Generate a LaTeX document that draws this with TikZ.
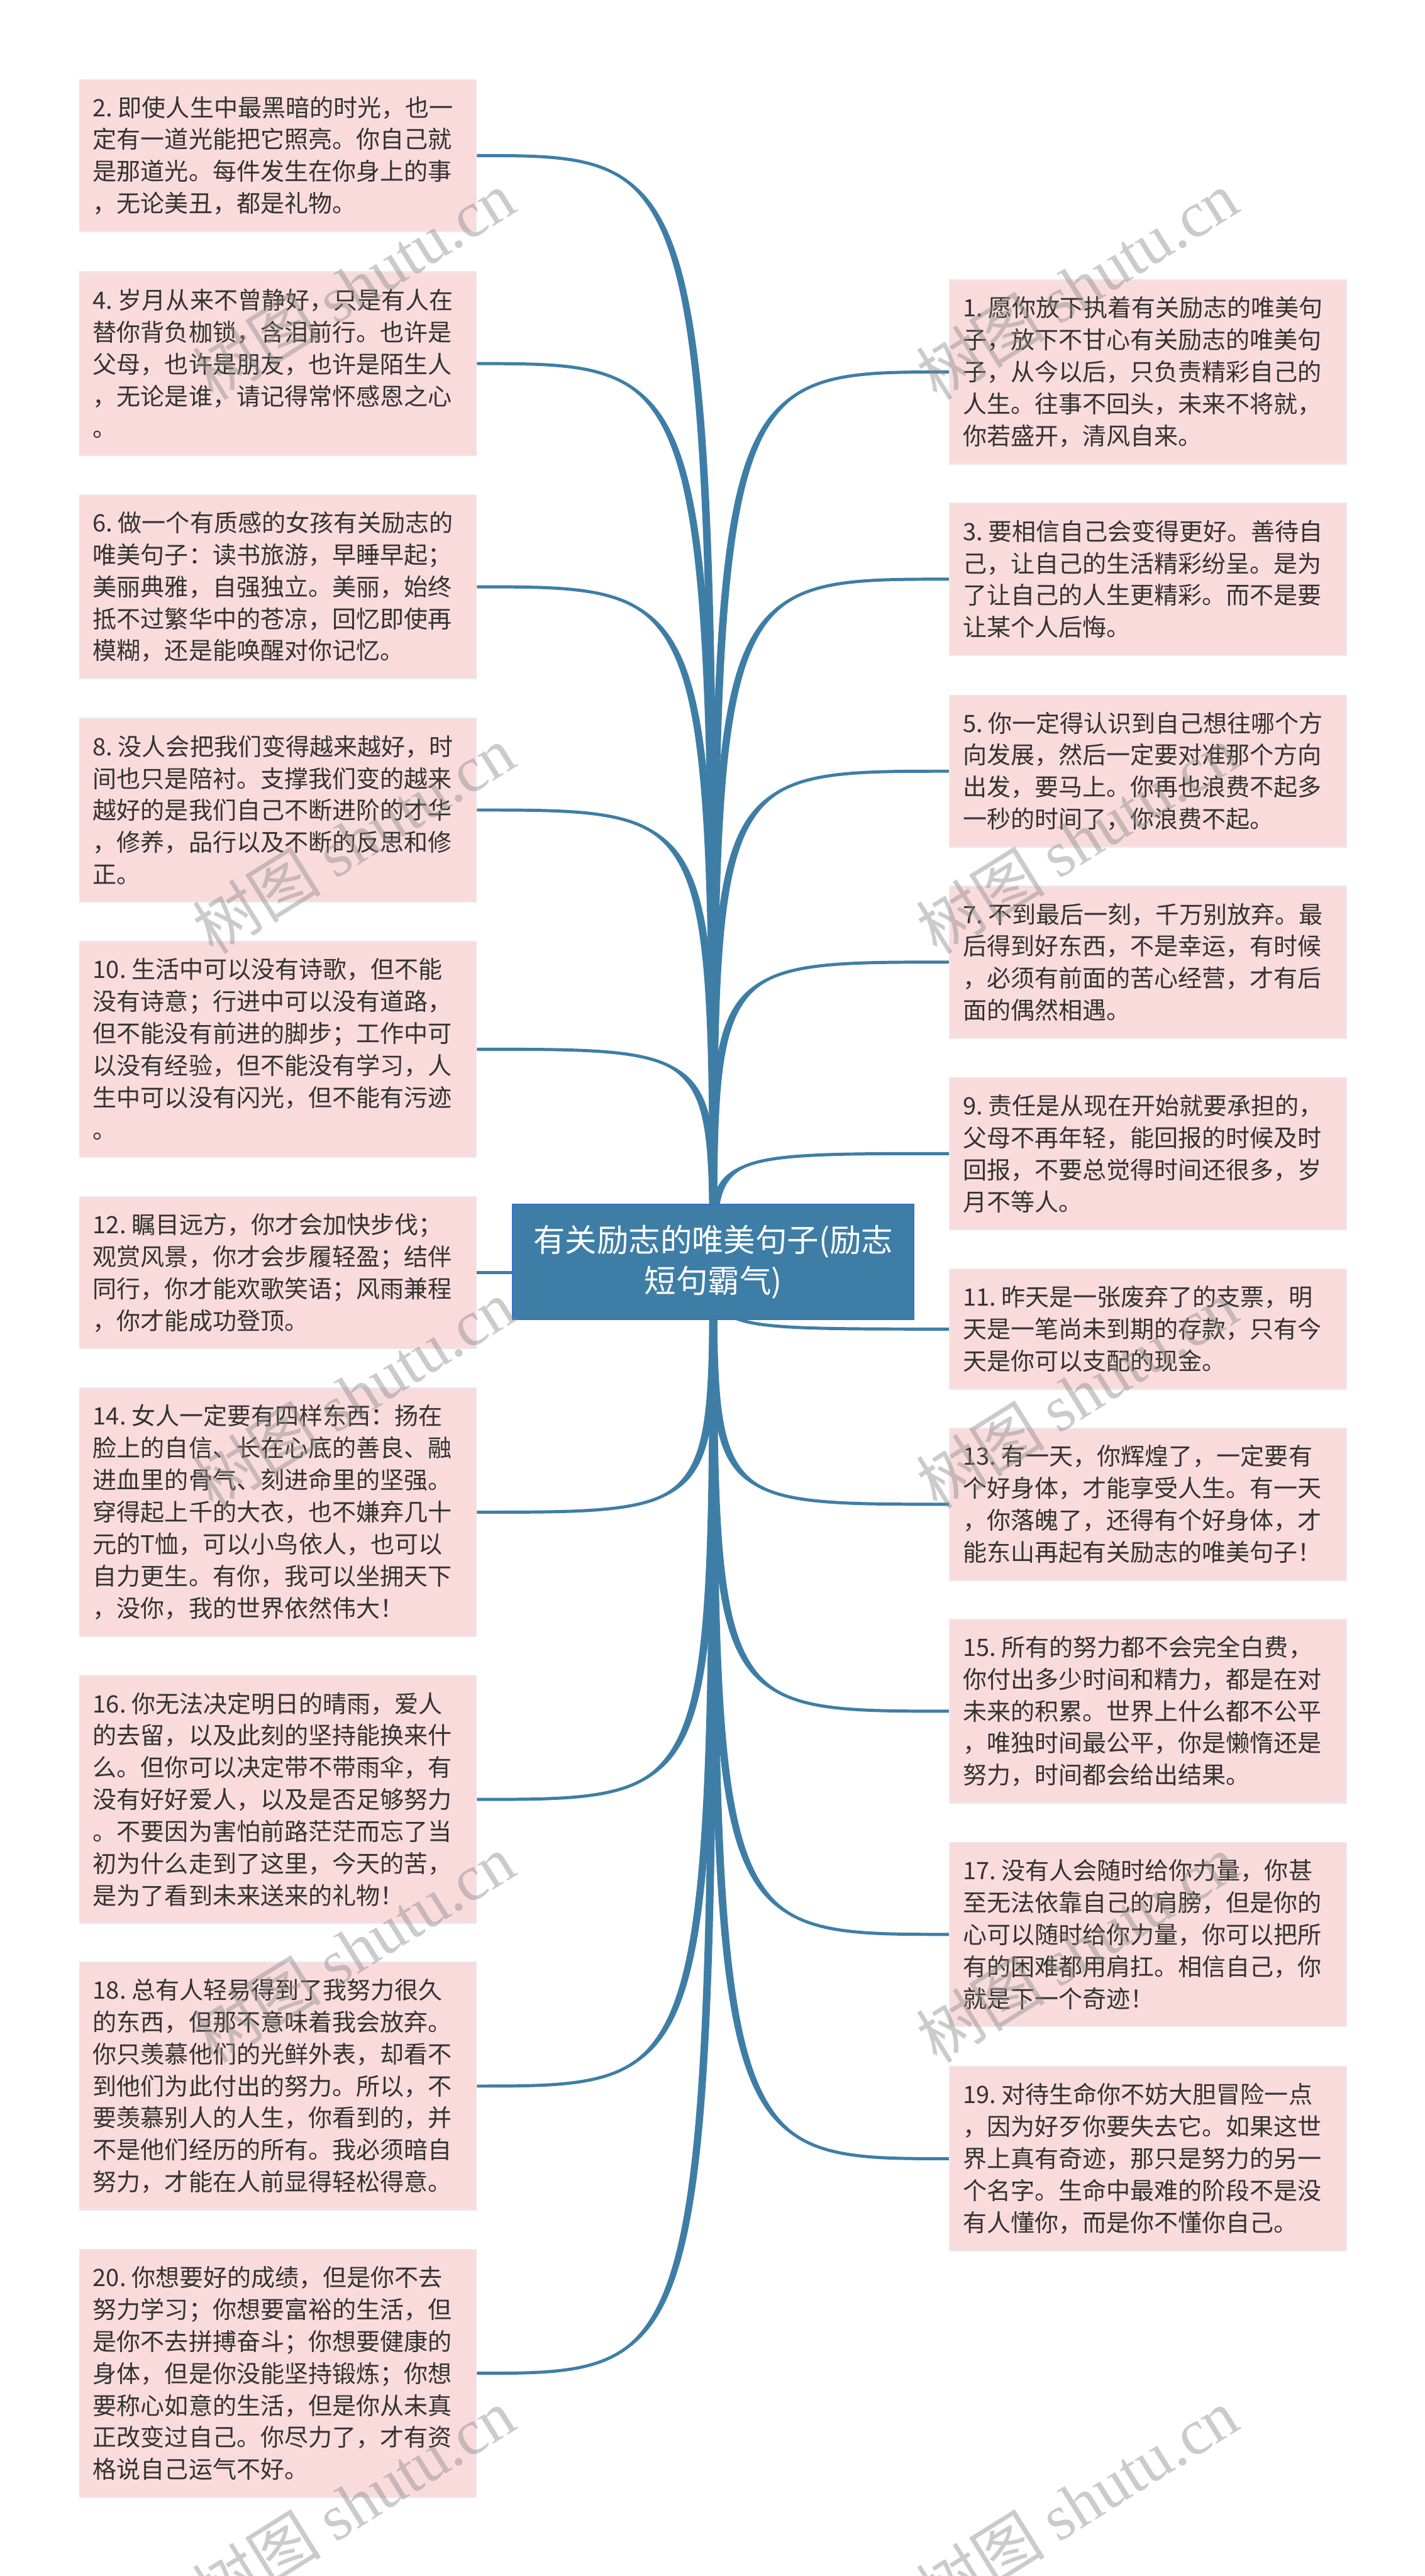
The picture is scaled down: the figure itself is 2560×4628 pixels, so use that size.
\documentclass[tikz,border=0pt]{standalone}
\usepackage{fontspec}
\setmainfont{Noto Sans CJK SC}
\newfontfamily\cjk{Noto Sans CJK SC}
\newfontfamily\wmserif{Liberation Serif}
\usetikzlibrary{calc}
\definecolor{pinkfill}{RGB}{250,219,219}
\definecolor{pinkline}{RGB}{234,232,238}
\definecolor{txt}{RGB}{51,51,51}
\definecolor{hub}{RGB}{62,126,166}
\definecolor{hubline}{RGB}{52,112,200}
\definecolor{conncol}{RGB}{62,126,166}
\pgfdeclarelayer{bg}
\pgfsetlayers{bg,main}
\newcommand\mmbranch[1]{%
  \fill[conncol] (cL) .. controls (cL |- #1) .. (#1) .. controls (cR |- #1) .. (cR) -- cycle;
  \draw[connline] (c.center) .. controls (c.center |- #1) .. (#1);}
\newcommand\nsp{\kern0.22em}
\begin{document}
\begin{tikzpicture}[x=0.25pt,y=-0.25pt,
  pbox/.style={rectangle, fill=pinkfill, draw=pinkline, line width=0.5pt,
    anchor=north west, text width=166.25pt, inner xsep=6pt, inner ysep=0pt,
    align=left, text=txt, font={\fontsize{10.75pt}{14.375pt}\selectfont}},
  lthree/.style={minimum height=53.875pt},
  lfour/.style={minimum height=68.25pt},
  lfive/.style={minimum height=82.625pt},
  lsix/.style={minimum height=97pt},
  lseven/.style={minimum height=111.375pt},
  hubbox/.style={rectangle, fill=hub, draw=hubline, line width=0.5pt, text=white,
    minimum width=180.25pt, minimum height=51.75pt, inner sep=0pt, align=center,
    font={\fontsize{14.25pt}{18.5pt}\selectfont}},
  connline/.style={draw=conncol, line width=1.4pt},
  wm/.style={text=black!45, opacity=0.45, rotate=32, inner sep=0pt,
    font={\fontsize{29pt}{29pt}\selectfont}}]
\useasboundingbox (0,0) rectangle (2560,4628);

% central node
\node[hubbox] (c) at (1281.5,2267.5) {有关励志的唯美句子(励志\\短句霸气)};

% left boxes
\node[pbox,lfour] (b2) at (142,142) {2.\nsp 即使人生中最黑暗的时光，也一\\定有一道光能把它照亮。你自己就\\是那道光。每件发生在你身上的事\\，无论美丑，都是礼物。};
\node[pbox,lfive] (b4) at (142,487) {4.\nsp 岁月从来不曾静好，只是有人在\\替你背负枷锁，含泪前行。也许是\\父母，也许是朋友，也许是陌生人\\，无论是谁，请记得常怀感恩之心\\。};
\node[pbox,lfive] (b6) at (142,888) {6.\nsp 做一个有质感的女孩有关励志的\\唯美句子：读书旅游，早睡早起；\\美丽典雅，自强独立。美丽，始终\\抵不过繁华中的苍凉，回忆即使再\\模糊，还是能唤醒对你记忆。};
\node[pbox,lfive] (b8) at (142,1289) {8.\nsp 没人会把我们变得越来越好，时\\间也只是陪衬。支撑我们变的越来\\越好的是我们自己不断进阶的才华\\，修养，品行以及不断的反思和修\\正。};
\node[pbox,lsix] (b10) at (142,1690) {10.\nsp 生活中可以没有诗歌，但不能\\没有诗意；行进中可以没有道路，\\但不能没有前进的脚步；工作中可\\以没有经验，但不能没有学习，人\\生中可以没有闪光，但不能有污迹\\。};
\node[pbox,lfour] (b12) at (142,2149) {12.\nsp 瞩目远方，你才会加快步伐；\\观赏风景，你才会步履轻盈；结伴\\同行，你才能欢歌笑语；风雨兼程\\，你才能成功登顶。};
\node[pbox,lseven] (b14) at (142,2493) {14.\nsp 女人一定要有四样东西：扬在\\脸上的自信、长在心底的善良、融\\进血里的骨气、刻进命里的坚强。\\穿得起上千的大衣，也不嫌弃几十\\元的T恤，可以小鸟依人，也可以\\自力更生。有你，我可以坐拥天下\\，没你，我的世界依然伟大！};
\node[pbox,lseven] (b16) at (142,3009) {16.\nsp 你无法决定明日的晴雨，爱人\\的去留，以及此刻的坚持能换来什\\么。但你可以决定带不带雨伞，有\\没有好好爱人，以及是否足够努力\\。不要因为害怕前路茫茫而忘了当\\初为什么走到了这里，今天的苦，\\是为了看到未来送来的礼物！};
\node[pbox,lseven] (b18) at (142,3524) {18.\nsp 总有人轻易得到了我努力很久\\的东西，但那不意味着我会放弃。\\你只羡慕他们的光鲜外表，却看不\\到他们为此付出的努力。所以，不\\要羡慕别人的人生，你看到的，并\\不是他们经历的所有。我必须暗自\\努力，才能在人前显得轻松得意。};
\node[pbox,lseven] (b20) at (142,4040) {20.\nsp 你想要好的成绩，但是你不去\\努力学习；你想要富裕的生活，但\\是你不去拼搏奋斗；你想要健康的\\身体，但是你没能坚持锻炼；你想\\要称心如意的生活，但是你从未真\\正改变过自己。你尽力了，才有资\\格说自己运气不好。};

% right boxes
\node[pbox,lfive] (b1) at (1705,502) {1.\nsp 愿你放下执着有关励志的唯美句\\子，放下不甘心有关励志的唯美句\\子，从今以后，只负责精彩自己的\\人生。往事不回头，未来不将就，\\你若盛开，清风自来。};
\node[pbox,lfour] (b3) at (1705,903) {3.\nsp 要相信自己会变得更好。善待自\\己，让自己的生活精彩纷呈。是为\\了让自己的人生更精彩。而不是要\\让某个人后悔。};
\node[pbox,lfour] (b5) at (1705,1248) {5.\nsp 你一定得认识到自己想往哪个方\\向发展，然后一定要对准那个方向\\出发，要马上。你再也浪费不起多\\一秒的时间了，你浪费不起。};
\node[pbox,lfour] (b7) at (1705,1591) {7.\nsp 不到最后一刻，千万别放弃。最\\后得到好东西，不是幸运，有时候\\，必须有前面的苦心经营，才有后\\面的偶然相遇。};
\node[pbox,lfour] (b9) at (1705,1935) {9.\nsp 责任是从现在开始就要承担的，\\父母不再年轻，能回报的时候及时\\回报，不要总觉得时间还很多，岁\\月不等人。};
\node[pbox,lthree] (b11) at (1705,2279) {11.\nsp 昨天是一张废弃了的支票，明\\天是一笔尚未到期的存款，只有今\\天是你可以支配的现金。};
\node[pbox,lfour] (b13) at (1705,2565) {13.\nsp 有一天，你辉煌了，一定要有\\个好身体，才能享受人生。有一天\\，你落魄了，还得有个好身体，才\\能东山再起有关励志的唯美句子！};
\node[pbox,lfive] (b15) at (1705,2908) {15.\nsp 所有的努力都不会完全白费，\\你付出多少时间和精力，都是在对\\未来的积累。世界上什么都不公平\\，唯独时间最公平，你是懒惰还是\\努力，时间都会给出结果。};
\node[pbox,lfive] (b17) at (1705,3309) {17.\nsp 没有人会随时给你力量，你甚\\至无法依靠自己的肩膀，但是你的\\心可以随时给你力量，你可以把所\\有的困难都用肩扛。相信自己，你\\就是下一个奇迹！};
\node[pbox,lfive] (b19) at (1705,3712) {19.\nsp 对待生命你不妨大胆冒险一点\\，因为好歹你要失去它。如果这世\\界上真有奇迹，那只是努力的另一\\个名字。生命中最难的阶段不是没\\有人懂你，而是你不懂你自己。};

% connectors (under the boxes)
\coordinate (cL) at ([xshift=-1.75pt]c.center);
\coordinate (cR) at ([xshift=1.75pt]c.center);
\begin{pgfonlayer}{bg}
\fill[white] (0,0) rectangle (2560,4628);
\mmbranch{b2.east}
\mmbranch{b4.east}
\mmbranch{b6.east}
\mmbranch{b8.east}
\mmbranch{b10.east}
\draw[connline] (c.center |- b12.east) -- (b12.east);
\mmbranch{b14.east}
\mmbranch{b16.east}
\mmbranch{b18.east}
\mmbranch{b20.east}
\mmbranch{b1.west}
\mmbranch{b3.west}
\mmbranch{b5.west}
\mmbranch{b7.west}
\mmbranch{b9.west}
\mmbranch{b11.west}
\mmbranch{b13.west}
\mmbranch{b15.west}
\mmbranch{b17.west}
\mmbranch{b19.west}
\end{pgfonlayer}

% watermarks
\node[wm] (wm1) at (635,512) {{\cjk 树图} {\wmserif shutu.cn}};
\node[wm] (wm2) at (1935,512) {{\cjk 树图} {\wmserif shutu.cn}};
\node[wm] (wm3) at (635,1508) {{\cjk 树图} {\wmserif shutu.cn}};
\node[wm] (wm4) at (1935,1508) {{\cjk 树图} {\wmserif shutu.cn}};
\node[wm] (wm5) at (635,2504) {{\cjk 树图} {\wmserif shutu.cn}};
\node[wm] (wm6) at (1935,2504) {{\cjk 树图} {\wmserif shutu.cn}};
\node[wm] (wm7) at (635,3500) {{\cjk 树图} {\wmserif shutu.cn}};
\node[wm] (wm8) at (1935,3500) {{\cjk 树图} {\wmserif shutu.cn}};
\node[wm] (wm9) at (635,4496) {{\cjk 树图} {\wmserif shutu.cn}};
\node[wm] (wm10) at (1935,4496) {{\cjk 树图} {\wmserif shutu.cn}};
\end{tikzpicture}
\end{document}
